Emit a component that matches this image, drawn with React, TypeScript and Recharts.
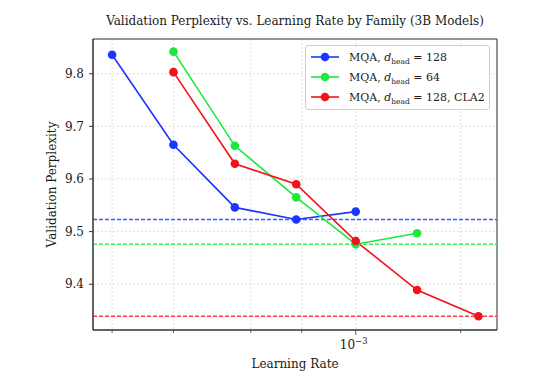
import React from 'react';
import {
  LineChart,
  Line,
  XAxis,
  YAxis,
  CartesianGrid,
  ReferenceLine,
  ReferenceArea,
  Label,
} from 'recharts';

const FONT = '"DejaVu Serif", serif';

// learning rates swept (log-spaced by 1.5x)
const learningRates = [2e-4, 3e-4, 4.5e-4, 6.75e-4, 1e-3, 1.5e-3, 2.25e-3];

// validation perplexity per family (null = not run)
const mqa128 = [9.836, 9.665, 9.546, 9.523, 9.538, null, null];
const mqa64 = [null, 9.842, 9.663, 9.565, 9.476, 9.497, null];
const mqa128Cla2 = [null, 9.803, 9.629, 9.59, 9.482, 9.389, 9.339];

const xTicks = [2e-4, 3e-4, 4e-4, 5e-4, 6e-4, 7e-4, 8e-4, 9e-4, 1e-3, 2e-3];
const yTicks = [9.4, 9.5, 9.6, 9.7, 9.8];

const X_DOMAIN: [number, number] = [1.763e-4, 2.543e-3];
const Y_DOMAIN: [number, number] = [9.313, 9.866];

const SERIES = [
  { key: 'mqa128', values: mqa128, color: '#1a35ff', dash: '#3d5cff', dim: '128', extra: '' },
  { key: 'mqa64', values: mqa64, color: '#1ee83c', dash: '#3fec58', dim: '64', extra: '' },
  { key: 'mqa128Cla2', values: mqa128Cla2, color: '#f5111b', dash: '#ff3a40', dim: '128', extra: ', CLA2' },
];

const data = learningRates.map((lr, i) => ({
  lr,
  mqa128: mqa128[i],
  mqa64: mqa64[i],
  mqa128Cla2: mqa128Cla2[i],
}));

const bestOf = (vals: (number | null)[]) =>
  Math.min(...(vals.filter((v) => v !== null) as number[]));

// x ticks: every minor decade step gets a mark, only 1e-3 gets a label
const XTick = (props: any) => {
  const { x, y, payload } = props;
  const major = Math.abs(payload.value - 1e-3) < 1e-9;
  return (
    <g>
      <line x1={x} x2={x} y1={y} y2={y + (major ? 5 : 3)} stroke="#333" strokeWidth={0.8} />
      {major && (
        <text x={x - 2} y={y + 19} textAnchor="middle" fontFamily={FONT} fontSize={12} fill="#1a1a1a">
          10
          <tspan dy={-5} fontSize={8.5}>
            −3
          </tspan>
        </text>
      )}
    </g>
  );
};

const LegendBox = () => (
  <div
    style={{
      position: 'absolute',
      left: 305,
      top: 45,
      width: 183,
      border: '1px solid #cfcfcf',
      borderRadius: 3,
      background: 'rgba(255,255,255,0.85)',
      padding: '1px 0 2px',
      fontFamily: FONT,
      fontSize: 11,
      color: '#1a1a1a',
    }}
  >
    {SERIES.map((s) => (
      <div key={s.key} style={{ display: 'flex', alignItems: 'center', height: 20, paddingLeft: 4 }}>
        <svg width={30} height={10}>
          <line x1={1} x2={29} y1={5} y2={5} stroke={s.color} strokeWidth={1.6} />
          <circle cx={15} cy={5} r={4.3} fill={s.color} />
        </svg>
        <span style={{ marginLeft: 9, whiteSpace: 'nowrap' }}>
          MQA, <i>d</i>
          <span style={{ fontSize: 7.5, position: 'relative', top: 3 }}>head</span> = {s.dim}
          {s.extra}
        </span>
      </div>
    ))}
  </div>
);

export default function App() {
  return (
    <div style={{ position: 'absolute', left: 0, top: 0, width: 554, height: 384, background: '#fff' }}>
      <div
        style={{
          position: 'absolute',
          left: 93,
          width: 404,
          top: 14,
          textAlign: 'center',
          fontFamily: FONT,
          fontSize: 12,
          color: '#1a1a1a',
          whiteSpace: 'nowrap',
        }}
      >
        Validation Perplexity vs. Learning Rate by Family (3B Models)
      </div>
      <LineChart
        width={554}
        height={384}
        data={data}
        margin={{ top: 39, right: 57, bottom: 0, left: 0 }}
      >
        <CartesianGrid stroke="#d4d4d4" strokeDasharray="2 2" strokeWidth={0.8} />
        <XAxis
          dataKey="lr"
          type="number"
          scale="log"
          domain={X_DOMAIN}
          allowDataOverflow
          ticks={xTicks}
          tick={<XTick />}
          tickLine={false}
          tickSize={0}
          tickMargin={0}
          height={54}
          axisLine={{ stroke: '#333' }}
        >
          <Label
            value="Learning Rate"
            position="insideBottom"
            offset={16}
            style={{ fontFamily: FONT, fontSize: 12, fill: '#1a1a1a' }}
          />
        </XAxis>
        <YAxis
          type="number"
          domain={Y_DOMAIN}
          allowDataOverflow
          ticks={yTicks}
          width={93}
          tickSize={4}
          tickMargin={5}
          tickFormatter={(v: number) => v.toFixed(1)}
          tick={{ fontFamily: FONT, fontSize: 12, fill: '#1a1a1a' }}
          tickLine={{ stroke: '#333' }}
          axisLine={{ stroke: '#333' }}
        >
          <Label
            value="Validation Perplexity"
            angle={-90}
            position="insideLeft"
            offset={52}
            style={{ textAnchor: 'middle', fontFamily: FONT, fontSize: 12, fill: '#1a1a1a' }}
          />
        </YAxis>
        <ReferenceArea
          x1={X_DOMAIN[0]}
          x2={X_DOMAIN[1]}
          y1={Y_DOMAIN[0]}
          y2={Y_DOMAIN[1]}
          fill="none"
          stroke="#333"
          strokeWidth={1}
        />
        {SERIES.map((s) => (
          <ReferenceLine
            key={`best-${s.key}`}
            y={bestOf(s.values)}
            stroke={s.dash}
            strokeDasharray="4 2"
            strokeWidth={1.4}
          />
        ))}
        {SERIES.map((s) => (
          <Line
            key={s.key}
            dataKey={s.key}
            stroke={s.color}
            strokeWidth={1.6}
            dot={{ r: 4.3, fill: s.color, stroke: 'none' }}
            activeDot={false}
            isAnimationActive={false}
          />
        ))}
      </LineChart>
      <LegendBox />
    </div>
  );
}
